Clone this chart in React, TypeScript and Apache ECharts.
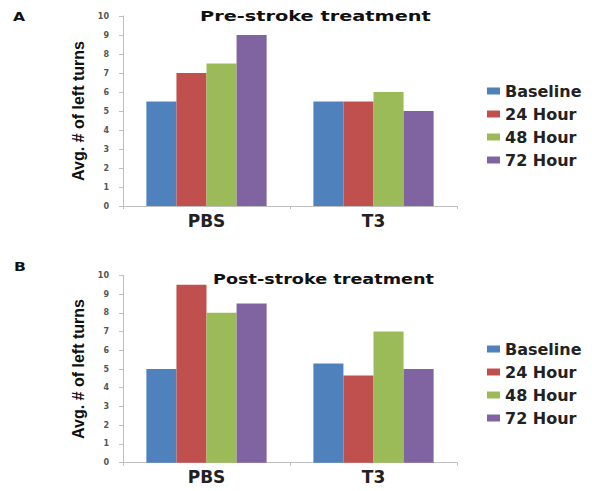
import React, { useEffect, useRef } from "react";
import * as echarts from "echarts";

const categories = ["PBS", "T3"];
const seriesNames = ["Baseline", "24 Hour", "48 Hour", "72 Hour"];
const colors = ["#4F81BD", "#C0504D", "#9BBB59", "#8064A2"];

// Pre-stroke treatment (panel A)
const preBaseline = [5.5, 5.5];
const pre24 = [7, 5.5];
const pre48 = [7.5, 6];
const pre72 = [9, 5];

// Post-stroke treatment (panel B)
const postBaseline = [5, 5.3];
const post24 = [9.5, 4.65];
const post48 = [8, 7];
const post72 = [8.5, 5];

const preData = [preBaseline, pre24, pre48, pre72];
const postData = [postBaseline, post24, post48, post72];

const yTitle = "Avg. # of left turns";
const panelTitles = ["Pre-stroke treatment", "Post-stroke treatment"];
const panelLetters = ["A", "B"];

export default function App() {
  const ref = useRef<HTMLDivElement>(null);
  useEffect(() => {
    if (!ref.current) return;
    const chart = echarts.init(ref.current, null, { renderer: "svg" });
    const grids = [
      { left: 123, right: 135, top: 16, height: 190 },
      { left: 123, right: 135, top: 275.3, height: 187.4 },
    ];
    const mkX = (gi: number) => ({
      type: "category",
      gridIndex: gi,
      data: categories,
      axisLine: { lineStyle: { color: "#BFBFBF", width: 1 } },
      axisTick: { show: true, length: 3, lineStyle: { color: "#BFBFBF" } },
      axisLabel: {
        margin: 6,
        color: "#222",
        fontSize: 17,
        fontWeight: "bold",
        fontFamily: "DejaVu Sans",
      },
    });
    const mkY = (gi: number) => ({
      type: "value",
      gridIndex: gi,
      min: 0,
      max: 10,
      interval: 1,
      name: yTitle,
      nameLocation: "middle",
      nameGap: 34,
      nameRotate: 90,
      nameTextStyle: {
        fontSize: 16,
        fontWeight: "bold",
        fontFamily: "Liberation Sans",
        color: "#111",
      },
      splitLine: { show: false },
      axisLine: { show: true, lineStyle: { color: "#BFBFBF", width: 1 } },
      axisTick: { show: true, length: 4, lineStyle: { color: "#BFBFBF" } },
      axisLabel: {
        margin: 14,
        color: "#555",
        fontSize: 8,
        fontWeight: "bold",
        fontFamily: "DejaVu Sans",
      },
    });
    const series: any[] = [];
    [preData, postData].forEach((set, gi) => {
      set.forEach((vals, i) => {
        series.push({
          type: "bar",
          name: seriesNames[i],
          xAxisIndex: gi,
          yAxisIndex: gi,
          data: vals,
          itemStyle: { color: colors[i] },
          barGap: "0%",
          barCategoryGap: "28%",
        });
      });
    });
    const legendBase = {
      orient: "vertical",
      left: 482,
      itemWidth: 13,
      itemHeight: 7,
      itemGap: 7,
      icon: "rect",
      data: seriesNames,
      textStyle: {
        fontSize: 16,
        fontWeight: "bold",
        fontFamily: "DejaVu Sans",
        color: "#222",
      },
    };
    chart.setOption({
      animation: false,
      backgroundColor: "#fff",
      color: colors,
      grid: grids,
      xAxis: [mkX(0), mkX(1)],
      yAxis: [mkY(0), mkY(1)],
      legend: [
        { ...legendBase, top: 78 },
        { ...legendBase, top: 336 },
      ],
      series,
      graphic: [
        {
          type: "text",
          x: 13,
          y: 17,
          scaleX: 1.3,
          style: {
            text: panelLetters[0],
            font: "bold 12px DejaVu Sans",
            fill: "#111",
            textVerticalAlign: "middle",
          },
        },
        {
          type: "text",
          x: 14,
          y: 267,
          scaleX: 1.3,
          style: {
            text: panelLetters[1],
            font: "bold 12px DejaVu Sans",
            fill: "#111",
            textVerticalAlign: "middle",
          },
        },
        {
          type: "text",
          x: 200,
          y: 16,
          scaleX: 1.38,
          style: {
            text: panelTitles[0],
            font: "bold 14px DejaVu Sans",
            fill: "#111",
            textVerticalAlign: "middle",
          },
        },
        {
          type: "text",
          x: 213,
          y: 279,
          scaleX: 1.26,
          style: {
            text: panelTitles[1],
            font: "bold 14px DejaVu Sans",
            fill: "#111",
            textVerticalAlign: "middle",
          },
        },
      ],
    });
    return () => chart.dispose();
  }, []);
  return (
    <div
      ref={ref}
      style={{ width: 592, height: 491, position: "absolute", left: 0, top: 0 }}
    />
  );
}
